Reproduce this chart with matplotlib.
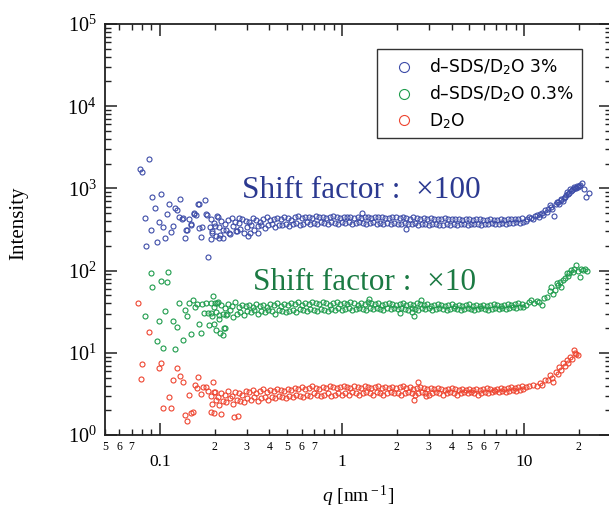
import matplotlib
matplotlib.use('Agg')
import matplotlib.pyplot as plt
from matplotlib.ticker import FixedLocator, FuncFormatter, LogLocator, NullFormatter
import numpy as np

plt.rcParams['font.family'] = 'serif'
plt.rcParams['font.serif'] = ['Liberation Serif', 'DejaVu Serif']
plt.rcParams['mathtext.fontset'] = 'custom'
plt.rcParams['mathtext.rm'] = 'Liberation Serif'
plt.rcParams['mathtext.it'] = 'Liberation Serif:italic'
plt.rcParams['mathtext.sf'] = 'DejaVu Sans'

# q grid of the dense part, two interleaved banks (nm^-1)
q_a = [0.190, 0.199, 0.208, 0.217, 0.227, 0.237, 0.248, 0.259, 0.271, 0.283,
       0.296, 0.309, 0.323, 0.338, 0.353, 0.369, 0.386, 0.403, 0.421, 0.440,
       0.460, 0.481, 0.503, 0.526, 0.550, 0.575, 0.601, 0.628, 0.656, 0.686,
       0.717, 0.749, 0.783, 0.818, 0.855, 0.894, 0.934, 0.976, 1.02, 1.07,
       1.11, 1.16, 1.22, 1.27, 1.33, 1.39, 1.45, 1.52, 1.58, 1.66,
       1.73, 1.81, 1.89, 1.98, 2.07, 2.16, 2.26, 2.36, 2.47, 2.58,
       2.69, 2.81, 2.94, 3.07, 3.21, 3.36, 3.51, 3.67, 3.83, 4.01,
       4.19, 4.38, 4.57, 4.78, 4.99, 5.22, 5.45, 5.70, 5.96, 6.23,
       6.51, 6.80, 7.11, 7.43, 7.76, 8.11, 8.48, 8.86, 9.26, 9.68]
q_b = [0.194, 0.203, 0.212, 0.222, 0.232, 0.242, 0.253, 0.265, 0.277, 0.289,
       0.302, 0.316, 0.330, 0.345, 0.361, 0.377, 0.394, 0.412, 0.430, 0.450,
       0.470, 0.491, 0.514, 0.537, 0.562, 0.587, 0.614, 0.642, 0.671, 0.701,
       0.733, 0.766, 0.800, 0.836, 0.874, 0.913, 0.955, 0.998, 1.04, 1.09,
       1.14, 1.19, 1.24, 1.30, 1.36, 1.42, 1.48, 1.55, 1.62, 1.69,
       1.77, 1.85, 1.93, 2.02, 2.11, 2.21, 2.31, 2.41, 2.52, 2.63,
       2.75, 2.87, 3.00, 3.14, 3.28, 3.43, 3.59, 3.75, 3.92, 4.10,
       4.28, 4.48, 4.68, 4.89, 5.10, 5.33, 5.57, 5.83, 6.09, 6.37,
       6.65, 6.95, 7.27, 7.59, 7.94, 8.29, 8.67, 9.06, 9.47, 9.90]

# d-SDS/D2O 3% (shifted x100)
blue_a = [430, 380, 445, 400, 365, 415, 440, 390, 375, 425,
          405, 385, 435, 415, 395, 425, 445, 410, 420, 435,
          425, 450, 435, 415, 445, 460, 435, 450, 455, 440,
          465, 445, 455, 435, 450, 460, 445, 435, 450, 455,
          445, 435, 450, 440, 455, 445, 435, 450, 445, 455,
          440, 435, 445, 450, 435, 445, 440, 430, 445, 435,
          425, 440, 430, 435, 425, 420, 430, 435, 425, 430,
          420, 430, 415, 425, 420, 415, 425, 420, 415, 410,
          420, 415, 410, 420, 415, 425, 420, 430, 425, 440]
blue_b = [300, 265, 335, 250, 315, 280, 345, 300, 325, 290,
          335, 355, 310, 345, 360, 330, 355, 370, 340, 360,
          355, 370, 350, 365, 380, 360, 370, 385, 365, 375,
          370, 385, 375, 365, 385, 375, 370, 390, 375, 385,
          370, 375, 390, 380, 370, 375, 385, 370, 380, 365,
          380, 370, 375, 370, 365, 380, 370, 365, 375, 360,
          370, 365, 360, 372, 365, 358, 355, 365, 360, 372,
          360, 368, 372, 360, 365, 372, 365, 360, 372, 365,
          375, 370, 365, 378, 372, 382, 376, 388, 382, 395]
blue_low_q = [0.0783, 0.0803, 0.087, 0.0827, 0.0845, 0.0889, 0.0907, 0.0935, 0.0959, 0.0984,
              0.1009, 0.1035, 0.1061, 0.1089, 0.1117, 0.1145, 0.1175, 0.1205, 0.124, 0.1272,
              0.1293, 0.1327, 0.1367, 0.1395, 0.1444, 0.1487, 0.1545, 0.1572, 0.1633, 0.1675,
              0.1640, 0.1762, 0.1807, 0.1845, 0.1334, 0.1407, 0.148, 0.1538, 0.1624, 0.1703,
              0.179, 0.188, 0.190, 0.1939, 0.1999, 0.205, 0.210, 0.2146, 0.2214, 0.240,
              0.2627, 0.2721, 0.305, 0.312, 0.346, 1.29, 2.26]
blue_low_i = [1707, 1585, 2260, 433, 199, 309, 780, 582, 221, 393,
              855, 342, 247, 492, 641, 297, 346, 582, 542, 449,
              750, 428, 247, 315, 421, 359, 488, 471, 641, 256,
              327, 717, 479, 148, 433, 312, 366, 498, 646, 342,
              488, 342, 240, 284, 350, 465, 247, 271, 312, 289,
              302, 440, 264, 284, 289, 506, 318]
blue_high_q = [10.2, 10.7, 11.2, 11.7, 12.2, 12.7, 13.3, 13.8, 14.3, 14.6,
               15.1, 15.6, 16.0, 16.4, 16.7, 17.1, 17.5, 17.8, 18.3, 18.7,
               19.2, 19.8, 20.3, 20.9, 21.4, 22.0, 22.8,
               10.4, 10.9, 11.5, 12.0, 12.5, 13.0, 13.6, 14.1, 14.9, 15.4,
               15.9, 16.5, 17.0, 17.6, 18.1, 18.5, 19.0, 19.5, 20.0]
blue_high_i = [400, 455, 430, 470, 490, 480, 520, 630, 560, 465,
               690, 640, 735, 700, 790, 910, 850, 995, 960, 1050,
               1000, 1030, 1100, 1170, 975, 795, 870,
               420, 440, 460, 450, 500, 540, 560, 600, 640, 680,
               720, 760, 830, 880, 940, 980, 1020, 1060, 1080]

# d-SDS/D2O 0.3% (shifted x10)
green_a = [40, 36, 42, 38, 35, 39, 37, 41, 36, 38,
           37, 38, 36, 39, 37, 38, 36, 39, 38, 40,
           37, 39, 38, 40, 39, 41, 38, 40, 39, 42,
           40, 39, 41, 40, 38, 40, 41, 39, 40, 39,
           41, 40, 38, 40, 39, 41, 40, 39, 40, 38,
           39, 40, 39, 38, 39, 40, 38, 39, 38, 40,
           39, 38, 39, 37, 38, 39, 38, 37, 38, 39,
           37, 38, 37, 38, 39, 37, 38, 37, 38, 37,
           38, 39, 38, 37, 38, 39, 38, 39, 40, 39]
green_b = [28, 31, 26, 30, 29, 33, 27, 30, 31, 29,
           32, 31, 33, 30, 32, 31, 33, 32, 30, 33,
           32, 31, 32, 33, 31, 34, 33, 32, 34, 33,
           32, 34, 33, 32, 34, 33, 35, 33, 34, 35,
           33, 34, 35, 34, 33, 35, 34, 35, 34, 33,
           35, 34, 35, 34, 35, 34, 33, 35, 34, 33,
           35, 34, 35, 33, 34, 35, 34, 33, 34, 35,
           34, 33, 34, 35, 34, 33, 34, 35, 34, 33,
           34, 35, 34, 35, 34, 35, 36, 35, 36, 36]
green_low_q = [0.0827, 0.0889, 0.0907, 0.0959, 0.0987, 0.1009, 0.1035, 0.1061, 0.1089, 0.111,
               0.1178, 0.1205, 0.124, 0.1272, 0.1339, 0.1367, 0.1413, 0.1444, 0.148, 0.1524,
               0.1557, 0.1603, 0.1633, 0.1675, 0.171, 0.174, 0.1785, 0.1836, 0.186, 0.190,
               0.1947, 0.1978, 0.202, 0.2043, 0.2069, 0.210, 0.215, 0.2217, 0.2245, 0.229,
               0.234, 1.41, 2.07, 2.42, 2.50, 2.73]
green_low_i = [28.3, 94.3, 63.7, 13.9, 24.4, 75.4, 11.5, 32.3, 72.7, 95.3,
               24.2, 11.0, 20.4, 40, 14.3, 33.2, 28, 40, 16.9, 43.9,
               36.4, 39.2, 22.2, 17.6, 38.9, 30.2, 40, 30.8, 21.8, 30.8,
               49.5, 22.2, 40, 18.9, 40.7, 28.8, 17.6, 16.5, 20.2, 20.2,
               29.4, 44.7, 30.8, 31.7, 28, 43.9]
green_high_q = [10.2, 10.6, 10.9, 11.3, 11.7, 12.0, 12.5, 12.9, 13.3, 13.8,
                14.1, 14.4, 14.7, 15.1, 15.4, 15.7, 16.0, 16.4, 16.7, 17.1,
                17.4, 17.7, 18.2, 18.5, 18.9, 19.3, 19.8, 20.3, 20.6, 21.0,
                21.5, 22.2]
green_high_i = [38, 41, 44, 40, 43, 42, 38, 46, 48, 56,
                64, 52, 58, 70, 66, 73, 64, 76, 81, 93,
                86, 93, 101, 96, 106, 117, 98, 84, 106, 102,
                106, 100]

# D2O
red_a = [3.0, 3.3, 2.9, 3.2, 3.1, 3.4, 3.0, 3.3, 3.2, 3.1,
         3.4, 3.3, 3.5, 3.2, 3.4, 3.6, 3.3, 3.5, 3.4, 3.6,
         3.5, 3.4, 3.6, 3.5, 3.7, 3.6, 3.8, 3.6, 3.7, 3.9,
         3.7, 3.6, 3.8, 3.7, 3.9, 3.8, 3.7, 3.8, 3.9, 3.8,
         3.7, 3.9, 3.8, 3.7, 3.9, 3.8, 3.7, 3.8, 3.9, 3.7,
         3.8, 3.7, 3.8, 3.7, 3.8, 3.9, 3.7, 3.8, 3.6, 3.7,
         3.8, 3.7, 3.6, 3.7, 3.6, 3.7, 3.6, 3.5, 3.6, 3.7,
         3.6, 3.5, 3.6, 3.5, 3.6, 3.5, 3.6, 3.5, 3.6, 3.7,
         3.6, 3.5, 3.6, 3.7, 3.6, 3.7, 3.8, 3.7, 3.8, 3.9]
red_b = [2.4, 2.7, 2.3, 2.6, 2.5, 2.8, 2.4, 2.7, 2.6, 2.5,
         2.8, 2.7, 2.9, 2.6, 2.8, 2.9, 2.7, 2.9, 2.8, 3.0,
         2.9, 2.8, 3.0, 2.9, 3.1, 3.0, 2.9, 3.1, 3.0, 3.2,
         3.1, 3.0, 3.1, 3.2, 3.0, 3.1, 3.2, 3.1, 3.2, 3.1,
         3.3, 3.2, 3.1, 3.2, 3.3, 3.2, 3.1, 3.3, 3.2, 3.1,
         3.2, 3.3, 3.2, 3.2, 3.1, 3.2, 3.3, 3.2, 3.1, 3.2,
         3.3, 3.2, 3.1, 3.2, 3.3, 3.2, 3.1, 3.2, 3.3, 3.2,
         3.1, 3.2, 3.3, 3.2, 3.3, 3.2, 3.1, 3.2, 3.3, 3.2,
         3.3, 3.4, 3.3, 3.4, 3.3, 3.4, 3.5, 3.4, 3.5, 3.6]
red_low_q = [0.076, 0.0786, 0.0803, 0.087, 0.0987, 0.1009, 0.1039, 0.112, 0.1145, 0.1178,
             0.124, 0.1288, 0.1333, 0.1372, 0.1402, 0.1438, 0.1475, 0.1513, 0.1557, 0.1624,
             0.160, 0.1675, 0.1724, 0.1796, 0.1845, 0.190, 0.1947, 0.1979, 0.202, 0.2154,
             0.2555, 0.2696, 2.50, 2.63, 2.91]
red_low_i = [40, 4.8, 7.3, 17.9, 6.5, 7.45, 2.15, 2.9, 2.15, 4.67,
             6.5, 5.27, 4.41, 1.75, 1.49, 3.07, 1.84, 1.92, 4.06, 5.03,
             3.7, 3.15, 3.81, 3.87, 3.46, 1.89, 4.38, 1.84, 3.37, 1.79,
             1.67, 1.71, 2.67, 4.45, 2.98]
red_high_q = [10.2, 10.7, 11.2, 11.7, 12.2, 12.6, 13.0, 13.5, 13.8, 14.2,
              14.5, 14.9, 15.3, 15.6, 16.0, 16.4, 16.7, 17.1, 17.4, 17.9,
              18.3, 18.7, 19.0, 19.3, 19.8]
red_high_i = [3.8, 3.9, 4.1, 3.9, 4.26, 4.1, 4.67, 4.67, 5.37, 4.9,
              4.45, 5.89, 5.5, 6.77, 6.17, 7.45, 6.9, 8.18, 7.45, 8.96,
              8.3, 10.8, 9.9, 9.65, 9.38]

labels = [r'd–SDS/D$_{\mathsf{2}}$O 3%', r'd–SDS/D$_{\mathsf{2}}$O 0.3%', r'D$_{\mathsf{2}}$O']
colors = ['#3d4ca8', '#1e9c4c', '#ee4530']

series = [
    (blue_low_q + q_a + q_b + blue_high_q, blue_low_i + blue_a + blue_b + blue_high_i),
    (green_low_q + q_a + q_b + green_high_q, green_low_i + green_a + green_b + green_high_i),
    (red_low_q + q_a + q_b + red_high_q, red_low_i + red_a + red_b + red_high_i),
]

fig = plt.figure(figsize=(6.09, 5.13), dpi=100)
ax = fig.add_axes([0.1724, 0.1520, 0.8309, 0.8012])

for (q, inten), c, lab in zip(series, colors, labels):
    ax.plot(q, inten, ls='none', marker='o', ms=3.6, mfc='none', mec=c, mew=0.8, label=lab)

ax.set_xscale('log')
ax.set_yscale('log')
ax.set_xlim(0.05, 30)
ax.set_ylim(1, 1e5)

# x ticks: labelled decades plus small digit labels on the minor ticks
ax.xaxis.set_major_locator(FixedLocator([0.1, 1, 10]))
ax.xaxis.set_major_formatter(FuncFormatter(lambda v, p: {0.1: '0.1', 1: '1', 10: '10'}.get(round(v, 3), '')))
minor_x = [m * d for d in (0.01, 0.1, 1, 10) for m in range(2, 10) if 0.05 <= m * d <= 30]
ax.xaxis.set_minor_locator(FixedLocator(minor_x))


def minor_label(v, pos):
    d = v / 10 ** np.floor(np.log10(v) + 1e-9)
    k = int(round(d))
    return str(k) if 2 <= k <= 7 else ''


ax.xaxis.set_minor_formatter(FuncFormatter(minor_label))
ax.yaxis.set_major_locator(LogLocator(base=10, numticks=10))
ax.yaxis.set_minor_locator(LogLocator(base=10, subs=np.arange(2, 10), numticks=20))
ax.yaxis.set_minor_formatter(NullFormatter())

ax.tick_params(which='both', direction='in', top=True, right=True, color='#222222')
ax.tick_params(which='major', length=8.5, width=1.1)
ax.tick_params(which='minor', length=4.3, width=1.0)
ax.tick_params(axis='x', which='major', labelsize=12.5, pad=14)
ax.tick_params(axis='x', which='minor', labelsize=8.5, pad=4)
ax.tick_params(axis='y', which='major', labelsize=14.5, pad=6)
for s in ax.spines.values():
    s.set_linewidth(1.3)
    s.set_color('#222222')

ax.set_xlabel(r'$q$ [nm$^{\rm -1}$]', fontsize=14, va='top')
ax.xaxis.set_label_coords(0.5, -0.118)
ax.set_ylabel('Intensity', fontsize=15)
ax.yaxis.set_label_coords(-0.152, 0.515)

ax.text(0.271, 0.577, 'Shift factor :  ×100', transform=ax.transAxes, fontsize=22.5,
        color='#2b3990', va='baseline', ha='left')
ax.text(0.292, 0.353, 'Shift factor :  ×10', transform=ax.transAxes, fontsize=22.5,
        color='#1b7a43', va='baseline', ha='left')

leg = ax.legend(loc='upper right', bbox_to_anchor=(0.943, 0.939), borderaxespad=0,
                prop={'family': 'DejaVu Sans', 'size': 12.3}, markerscale=2.0,
                handlelength=2.3, handletextpad=0.35, labelspacing=0.4, borderpad=0.45,
                fancybox=False, framealpha=1, edgecolor='#333333')
leg.get_frame().set_linewidth(1.0)

fig.savefig('out.png', dpi=100)
